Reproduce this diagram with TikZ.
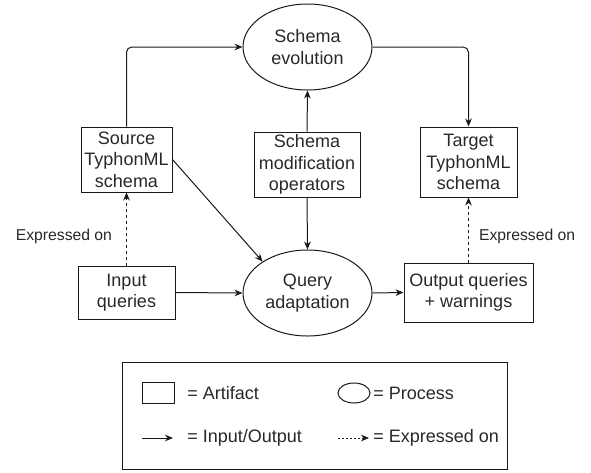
\documentclass[tikz,border=0pt]{standalone}
\usepackage{fontspec}
\setmainfont{Liberation Sans}
\definecolor{linecol}{RGB}{25, 25, 25}
\definecolor{textcol}{RGB}{40, 40, 40}
\usetikzlibrary{shapes.geometric, arrows.meta}
\tikzset{
    artifactbox/.style={
        rectangle, 
        draw=linecol,
        line width=0.75pt,
        inner sep=0pt, 
        align=center, 
        text=textcol,
        font=\fontsize{13.5}{16}\selectfont
    },
    processellipse/.style={
        ellipse, 
        draw=linecol,
        line width=0.75pt,
        minimum width=96.75pt, 
        minimum height=64.5pt, 
        inner sep=0pt, 
        align=center, 
        text=textcol,
        font=\fontsize{13.5}{16}\selectfont
    },
    sidelabel/.style={inner sep=0pt, text=textcol, font=\fontsize{11.8}{14}\selectfont},
    legendtext/.style={anchor=west, inner sep=0pt, text=textcol, font=\fontsize{13.5}{16}\selectfont},
    ioarrow/.style={-{Stealth[length=6pt, width=5pt]}, line width=0.75pt, color=linecol},
    exprarrow/.style={ioarrow, dash pattern=on 2.25pt off 2.25pt}
}

\begin{document}
\begin{tikzpicture}[x=0.75pt, y=-0.75pt]
      \useasboundingbox (0,0) rectangle (591,472);

      \node[processellipse] (evo) at (307.5,47) {Schema\\evolution};
      \node[processellipse] (qry) at (307.5,293) {Query\\adaptation};

      \node[artifactbox, minimum width=68.25pt, minimum height=48.75pt] (src) at (126.5,159.5) {Source\\TyphonML\\schema};
      \node[artifactbox, minimum width=79.5pt, minimum height=48.75pt] (mod) at (307,164.5) {Schema\\modification\\operators};
      \node[artifactbox, minimum width=72.75pt, minimum height=52.5pt] (tgt) at (468.5,162) {Target\\TyphonML\\schema};
      \node[artifactbox, minimum width=72.75pt, minimum height=39.75pt] (inp) at (126.5,292.5) {Input\\queries};
      \node[artifactbox, minimum width=96.75pt, minimum height=44.25pt] (out) at (468.5,292.5) {Output queries\\+ warnings};

      \draw[ioarrow, rounded corners=4pt] (src.north) |- (evo.west);
      \draw[ioarrow, rounded corners=4pt] (evo.east) -| (tgt.north);
      \draw[ioarrow] (mod.north) -- (evo.south);
      \draw[ioarrow] (mod.south) -- (qry.north);
      \draw[ioarrow] (src.east) -- (qry.145);
      \draw[ioarrow] (inp.east) -- (qry.west);
      \draw[ioarrow] (qry.east) -- (out.west);

      \draw[exprarrow] (inp.north) -- node[sidelabel, pos=0.4, left=10.5pt] {Expressed on} (src.south);
      \draw[exprarrow] (out.north) -- node[sidelabel, pos=0.4, right=7.5pt] {Expressed on} (tgt.south);

      % legend
      \node[draw=linecol, line width=0.75pt, minimum width=288.75pt, minimum height=80.25pt, inner sep=0pt] (legend) at (314.5,415.5) {};
      \node[artifactbox, minimum width=24pt, minimum height=15.75pt] (lgbox) at (158,392.5) {};
      \node[legendtext] (lgboxtxt) at (187,393) {= Artifact};
      \node[processellipse, minimum width=24pt, minimum height=15pt] (lgell) at (354,393) {};
      \node[legendtext] (lgelltxt) at (373,393) {= Process};
      \coordinate (io1) at (142,438);
      \coordinate (io2) at (173,438);
      \draw[ioarrow] (io1) -- (io2);
      \node[legendtext] (lgiotxt) at (187,438) {= Input/Output};
      \coordinate (ex1) at (338,438);
      \coordinate (ex2) at (369,438);
      \draw[exprarrow, dash pattern=on 1.5pt off 1.5pt] (ex1) -- (ex2);
      \node[legendtext] (lgextxt) at (373,438) {= Expressed on};
    \end{tikzpicture}
\end{document}
